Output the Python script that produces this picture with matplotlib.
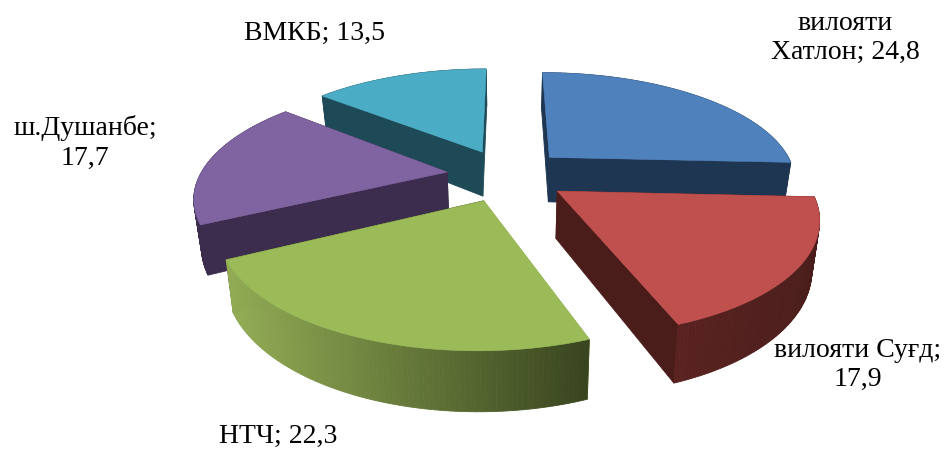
import numpy as np
import matplotlib
matplotlib.use("Agg")
import matplotlib.pyplot as plt
from matplotlib.colors import to_rgb

# -------------------------------
# Data
# -------------------------------
names = ["вилояти\nХатлон", "вилояти Суғд", "НТЧ", "ш.Душанбе", "ВМКБ"]
values = [24.8, 17.9, 22.3, 17.7, 13.5]

top_colors = ["#4f81bd", "#c0504d", "#9bbb59", "#8064a2", "#4bacc6"]
wall_light = ["#1f3653", "#5a2321", "#93ad55", "#3c2d4e", "#1e4a57"]
wall_dark = ["#1f3653", "#4a1d1b", "#39451f", "#3c2d4e", "#1e4a57"]
draw_order = [0, 4, 3, 1, 2]

label_pos = [(845, 38), (858, 365), (278, 436), (85, 143), (314, 33)]
label_fmt = ["{}; {}", "{};\n{}", "{}; {}", "{};\n{}", "{}; {}"]

# -------------------------------
# Fake 3D projection
# -------------------------------
CX, CY = 507, 175
RX, RY = 247, 108
PERSP = 0.2
DEPTH = 46
EXPLODE = 0.245
BOTTOM_SHRINK = 0.975


def project(u, v, low=False):
    s = 1 / (1 + PERSP * v)
    x = RX * u * s
    y = -RY * v * s
    if low:
        return CX + x * BOTTOM_SHRINK, CY + y + DEPTH * s
    return CX + x, CY + y


fig = plt.figure(figsize=(9.46, 4.5), dpi=100)
ax = fig.add_axes([0, 0, 1, 1])
ax.set_xlim(0, 946)
ax.set_ylim(450, 0)
ax.axis("off")

total = sum(values)
edges = np.cumsum([0] + values) / total * 360


def quad(p0, p1, p2, p3, color, z):
    xs = [p0[0], p1[0], p2[0], p3[0]]
    ys = [p0[1], p1[1], p2[1], p3[1]]
    ax.fill(xs, ys, color=color, lw=0.6, zorder=z)


for z, i in enumerate(draw_order):
    a0, a1 = np.radians(edges[i]), np.radians(edges[i + 1])
    mid = (a0 + a1) / 2
    ou, ov = EXPLODE * np.sin(mid), EXPLODE * np.cos(mid)
    th = np.linspace(a0, a1, 90)
    u = ou + np.sin(th)
    v = ov + np.cos(th)

    apex_t = project(ou, ov)
    apex_b = project(ou, ov, True)
    base = z * 10

    # cut faces
    for k in (0, -1):
        quad(apex_t, project(u[k], v[k]), project(u[k], v[k], True), apex_b, wall_dark[i] if k else wall_light[i], base)

    # outer wall, shaded from left to right
    c0, c1 = np.array(to_rgb(wall_light[i])), np.array(to_rgb(wall_dark[i]))
    tx = project(u, v)[0]
    for k in range(len(th) - 1):
        f = (tx[k] - tx.min()) / (tx.max() - tx.min())
        quad(project(u[k], v[k]), project(u[k + 1], v[k + 1]),
             project(u[k + 1], v[k + 1], True), project(u[k], v[k], True),
             c0 + (c1 - c0) * f, base + 1)

    # top surface
    xs, ys = project(np.r_[ou, u], np.r_[ov, v])
    ax.fill(xs, ys, color=top_colors[i], lw=0.4, zorder=base + 2)

for name, val, pos, fmt in zip(names, values, label_pos, label_fmt):
    txt = fmt.format(name, str(val).replace(".", ","))
    ax.text(pos[0], pos[1], txt, ha="center", va="center", family="Liberation Serif",
            fontsize=20, color="black", linespacing=1.22, zorder=100)

fig.savefig("out.png", dpi=100, facecolor="white")
